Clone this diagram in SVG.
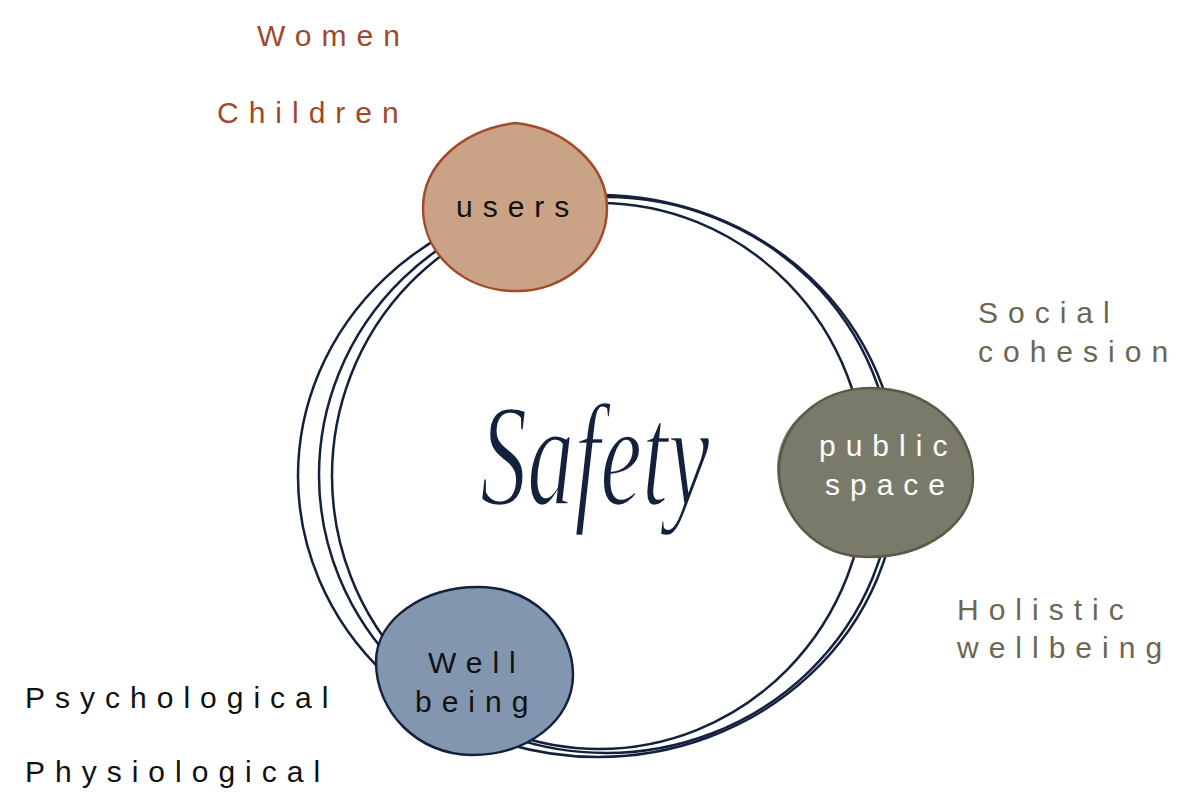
<svg xmlns="http://www.w3.org/2000/svg" width="1177" height="796" viewBox="0 0 1177 796">
<style>
.lbl{font-family:"Liberation Sans",Arial,sans-serif;font-size:30px;letter-spacing:10px}
.rust{fill:#a0482a}
.olive{fill:#6b6753}
.ink{fill:#111111}
.white{fill:#ffffff}
.ring{fill:none;stroke:#14213d;stroke-width:2.5}
.script{font-family:"Liberation Serif","Times New Roman",serif;font-style:italic;font-size:92px;fill:#14213d;stroke:#ffffff;stroke-width:1.6}
</style>
<rect width="1177" height="796" fill="#ffffff"/>
<g id="connectors">
<ellipse class="ring" cx="598" cy="476" rx="300" ry="281"/>
<ellipse class="ring" cx="606" cy="475" rx="287" ry="278"/>
<ellipse class="ring" cx="599" cy="476" rx="267" ry="273"/>
</g>
<g id="node-users">
<path d="M510,126 C560,126 600,165 600,210 C600,255 560,290 510,290 C462,290 423,255 423,208 C423,163 462,128 510,126 Z" fill="#d0ab90"/>
<path d="M515,123 C565,128 607,165 607,208 C607,255 565,292 515,291 C465,291 423,255 423,208 C423,165 462,130 515,123 Z" fill="#caa285" stroke="#a34a2b" stroke-width="2.5"/>
<text class="lbl ink" x="456" y="217">users</text>
</g>
<g id="node-public-space">
<path d="M864,392 C924,392 965,430 965,475 C965,522 920,552 864,552 C812,552 777,515 777,468 C777,425 815,392 864,392 Z" fill="#807f70"/>
<path d="M870,388 C930,388 973,430 973,478 C973,525 925,557 868,557 C815,557 779,515 779,470 C779,425 820,388 870,388 Z" fill="#7a7a6a" stroke="#5c5a45" stroke-width="2.5"/>
<text class="lbl white" x="819" y="456">public</text>
<text class="lbl white" x="825" y="495">space</text>
</g>
<g id="node-wellbeing">
<path d="M472,590 C530,590 566,630 566,672 C566,718 522,750 468,750 C415,750 378,710 378,665 C378,620 420,590 472,590 Z" fill="#8a9cb5"/>
<path d="M478,587 C535,587 573,630 573,675 C573,720 528,755 472,755 C418,755 376,712 376,662 C376,618 425,587 478,587 Z" fill="#8396b0" stroke="#14213d" stroke-width="2.5"/>
<text class="lbl ink" x="428" y="673">Well</text>
<text class="lbl ink" x="415" y="712">being</text>
</g>
<g id="node-safety">
<text class="script" x="0" y="0" text-anchor="middle" transform="translate(595,505) scale(1.02,1.6)">Safety</text>
</g>
<g id="labels-users">
<text class="lbl rust" x="257" y="46">Women</text>
<text class="lbl rust" x="217" y="123">Children</text>
</g>
<g id="labels-public-space">
<text class="lbl olive" x="978" y="323">Social</text>
<text class="lbl olive" x="978" y="362">cohesion</text>
<text class="lbl olive" x="957" y="620">Holistic</text>
<text class="lbl olive" x="957" y="658">wellbeing</text>
</g>
<g id="labels-wellbeing">
<text class="lbl ink" x="25" y="708">Psychological</text>
<text class="lbl ink" x="25" y="782">Physiological</text>
</g>
</svg>
